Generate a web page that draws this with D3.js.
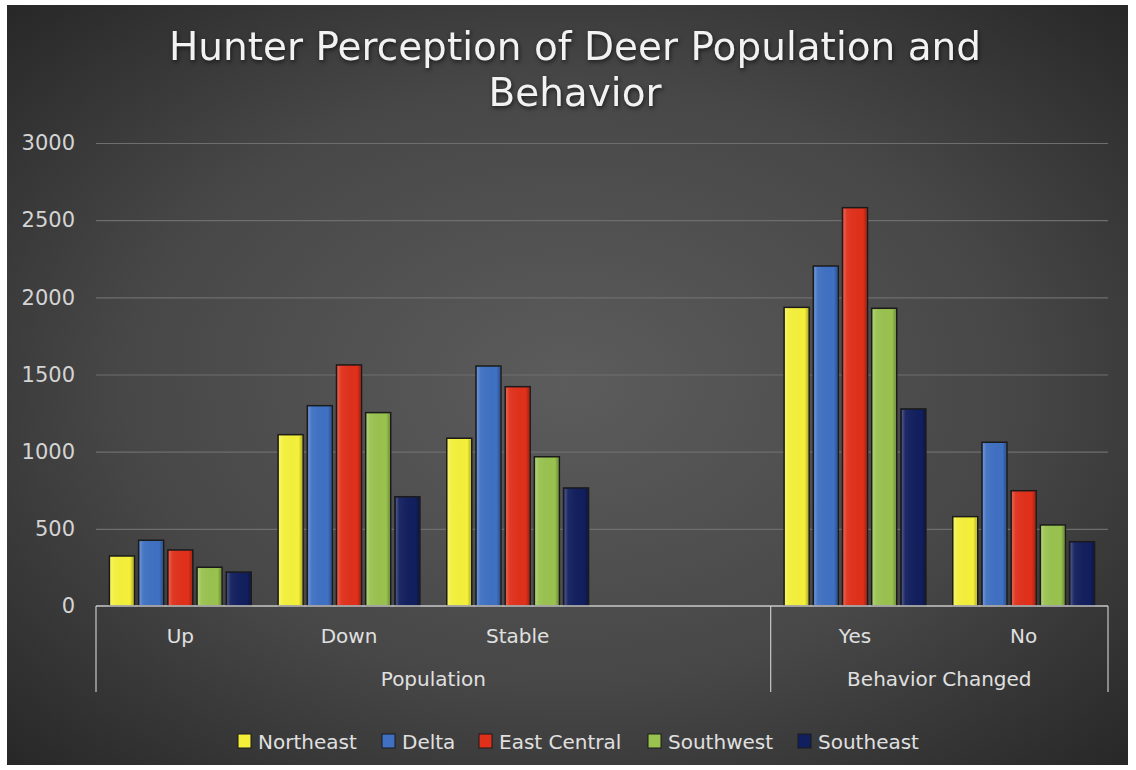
<!DOCTYPE html>
<html><head><meta charset="utf-8">
<script src="https://cdn.jsdelivr.net/npm/d3@7/dist/d3.min.js"></script>
<style>html,body{margin:0;padding:0;background:#fff;}svg{display:block;}</style>
</head><body>
<svg id="chart" width="1136" height="770"></svg>
<script>
const title = ["Hunter Perception of Deer Population and", "Behavior"];
const categories = ["Up", "Down", "Stable", " ", "Yes", "No"];
const groups = [
  {name: "Population", members: ["Up", "Down", "Stable", " "]},
  {name: "Behavior Changed", members: ["Yes", "No"]}
];
const seriesNames = ["Northeast", "Delta", "East Central", "Southwest", "Southeast"];
const seriesColors = ["#f4f03a", "#3f70c2", "#e0301a", "#99c24f", "#121f5e"];
const northeast   = [324, 1110, 1087, null, 1935, 579];
const delta       = [426, 1298, 1555, null, 2203, 1061];
const eastCentral = [363, 1562, 1421, null, 2581, 747];
const southwest   = [251, 1253, 967, null, 1929, 525];
const southeast   = [220, 708, 765, null, 1277, 417];
const seriesValues = [northeast, delta, eastCentral, southwest, southeast];
const yTicks = [0, 500, 1000, 1500, 2000, 2500, 3000];

(function () {
const FONT = "DejaVu Sans, Verdana, sans-serif";
const svg = d3.select("#chart");
const defs = svg.append("defs");
const bg = defs.append("radialGradient").attr("id", "bg")
  .attr("cx", "50%").attr("cy", "50%").attr("r", "72%");
bg.append("stop").attr("offset", "0%").attr("stop-color", "#5c5c5c");
bg.append("stop").attr("offset", "55%").attr("stop-color", "#474747");
bg.append("stop").attr("offset", "100%").attr("stop-color", "#262626");

const bev = defs.append("linearGradient").attr("id", "bevel").attr("x1", "0").attr("x2", "1").attr("y1", "0").attr("y2", "0");
bev.append("stop").attr("offset", "0%").attr("stop-color", "#fff").attr("stop-opacity", 0.25);
bev.append("stop").attr("offset", "15%").attr("stop-color", "#fff").attr("stop-opacity", 0.05);
bev.append("stop").attr("offset", "85%").attr("stop-color", "#000").attr("stop-opacity", 0.0);
bev.append("stop").attr("offset", "100%").attr("stop-color", "#000").attr("stop-opacity", 0.25);

svg.append("rect").attr("x", 7).attr("y", 5).attr("width", 1121).attr("height", 760).attr("fill", "url(#bg)");

const pLeft = 96, pRight = 1108, pTop = 143, pBottom = 606;
const y = d3.scaleLinear().domain([0, 3000]).range([pBottom, pTop]);
const x0 = d3.scaleBand().domain(categories).range([pLeft, pRight]).paddingInner(0).paddingOuter(0);
const x1 = d3.scaleBand().domain(seriesNames).range([0, x0.bandwidth()]).paddingInner(0.144).paddingOuter(0.46);

svg.append("g").selectAll("text").data(title).join("text")
  .attr("x", 575).attr("y", (d, i) => 60 + i * 46)
  .attr("text-anchor", "middle")
  .attr("font-family", FONT)
  .attr("font-size", 39).attr("fill", "#f2f2f2")
  .style("filter", "drop-shadow(1px 2px 2px rgba(0,0,0,0.6))")
  .text(d => d);

const yAxis = d3.axisLeft(y).tickValues(yTicks).tickSize(-(pRight - pLeft)).tickFormat(d3.format("d"));
const gy = svg.append("g").attr("transform", `translate(${pLeft},0)`).call(yAxis);
gy.select(".domain").remove();
gy.selectAll(".tick line").attr("stroke", "#6e6e6e").attr("stroke-width", 1.2)
  .filter(d => d === 0).remove();
gy.selectAll(".tick text").attr("x", -21).attr("font-family", FONT)
  .attr("font-size", 21).attr("fill", "#d4d4d4");

const barData = [];
categories.forEach((c, ci) => {
  seriesNames.forEach((s, si) => {
    const v = seriesValues[si][ci];
    if (v != null) barData.push({c, s, v, color: seriesColors[si]});
  });
});
const gb = svg.append("g");
gb.selectAll("rect.bar").data(barData).join("rect").attr("class", "bar")
  .attr("x", d => x0(d.c) + x1(d.s)).attr("width", x1.bandwidth())
  .attr("y", d => y(d.v)).attr("height", d => y(0) - y(d.v))
  .attr("fill", d => d.color).attr("stroke", "#1b1b1b").attr("stroke-width", 1.5);
gb.selectAll("rect.bev").data(barData).join("rect").attr("class", "bev")
  .attr("x", d => x0(d.c) + x1(d.s) + 1).attr("width", x1.bandwidth() - 2)
  .attr("y", d => y(d.v) + 1).attr("height", d => y(0) - y(d.v) - 2)
  .attr("fill", "url(#bevel)");

const axisColor = "#c8c8c8";
svg.append("line").attr("x1", pLeft).attr("x2", pRight).attr("y1", pBottom).attr("y2", pBottom)
  .attr("stroke", axisColor).attr("stroke-width", 1.5);
const boundaries = [pLeft];
groups.forEach(g => {
  boundaries.push(x0(g.members[g.members.length - 1]) + x0.bandwidth());
});
svg.append("g").selectAll("line").data(boundaries).join("line")
  .attr("x1", d => d).attr("x2", d => d).attr("y1", pBottom).attr("y2", 692)
  .attr("stroke", axisColor).attr("stroke-width", 1.2);

svg.append("g").selectAll("text").data(categories.filter(c => c.trim() !== "")).join("text")
  .attr("x", d => x0(d) + x0.bandwidth() / 2).attr("y", 643)
  .attr("text-anchor", "middle").attr("font-family", FONT)
  .attr("font-size", 20).attr("fill", "#e0e0e0").text(d => d);

svg.append("g").selectAll("text").data(groups).join("text")
  .attr("x", g => (x0(g.members[0]) + x0(g.members[g.members.length - 1]) + x0.bandwidth()) / 2)
  .attr("y", 686).attr("text-anchor", "middle").attr("font-family", FONT)
  .attr("font-size", 20).attr("fill", "#e0e0e0").text(g => g.name);

const legendX = [238, 382, 479, 648, 798];
const lg = svg.append("g").selectAll("g").data(seriesNames).join("g")
  .attr("transform", (d, i) => `translate(${legendX[i]},734)`);
lg.append("rect").attr("width", 13).attr("height", 14).attr("fill", (d, i) => seriesColors[i])
  .attr("stroke", "#1b1b1b").attr("stroke-width", 1);
lg.append("text").attr("x", 20).attr("y", 15).attr("font-family", FONT)
  .attr("font-size", 20).attr("fill", "#e0e0e0").text(d => d);
})();
</script>
</body></html>
